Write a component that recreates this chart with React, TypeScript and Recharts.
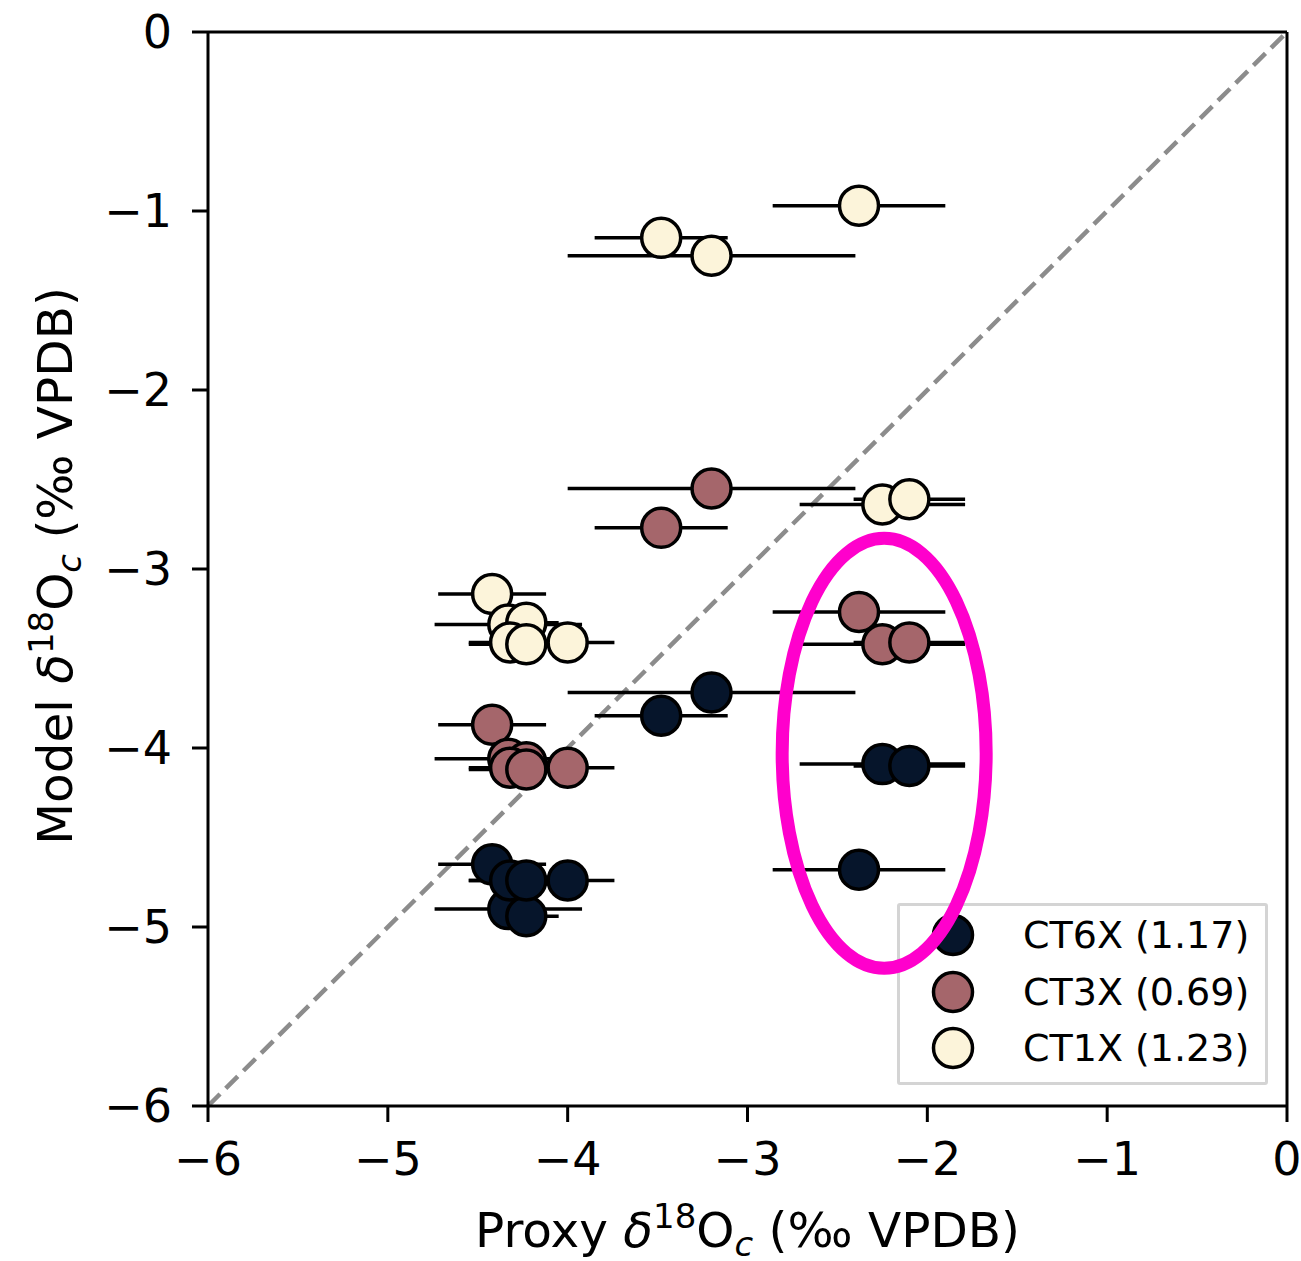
import React from 'react';
import {
  ScatterChart,
  Scatter,
  XAxis,
  YAxis,
  ErrorBar,
  ReferenceLine,
  ReferenceDot,
} from 'recharts';

// proxy sites (x) with their x-uncertainty
const SITE_X = [-2.38, -3.48, -3.2, -2.25, -2.1, -4.42, -4.33, -4.23, -4.32, -4.23, -4.0];
const SITE_XERR = [0.48, 0.37, 0.8, 0.46, 0.31, 0.3, 0.41, 0.18, 0.23, 0.32, 0.26];

// model values per experiment
const CT6X = [-4.68, -3.82, -3.69, -4.09, -4.1, -4.65, -4.9, -4.94, -4.74, -4.74, -4.74];
const CT3X = [-3.24, -2.77, -2.55, -3.42, -3.41, -3.87, -4.06, -4.08, -4.11, -4.12, -4.11];
const CT1X = [-0.97, -1.15, -1.25, -2.64, -2.61, -3.14, -3.31, -3.3, -3.41, -3.42, -3.41];

const TICKS = [-6, -5, -4, -3, -2, -1, 0];
const DIAG = [-6, 0];

// highlighted group (center in data units)
const HIGHLIGHT = { x: -2.24, y: -4.03 };

const SERIES = [
  { name: 'CT6X (1.17)', values: CT6X, color: '#06152b' },
  { name: 'CT3X (0.69)', values: CT3X, color: '#a5666b' },
  { name: 'CT1X (1.23)', values: CT1X, color: '#fcf4da' },
];

const FONT = '"DejaVu Sans", sans-serif';

const toRows = (values: number[]) =>
  values.map((y, i) => ({ x: SITE_X[i], y, xerr: SITE_XERR[i] }));

const fmt = (v: number) => String(v).replace('-', '\u2212');

const dot = (fill: string) => (props: any) => (
  <circle cx={props.cx} cy={props.cy} r={19.5} fill={fill} stroke="#000" strokeWidth={3.5} />
);

const AxisTitle = ({ prefix }: { prefix: string }) => (
  <>
    {prefix}{' '}
    <tspan fontStyle="italic">δ</tspan>
    <tspan dy={-19} fontSize={34}>18</tspan>
    <tspan dy={19}>O</tspan>
    <tspan dy={9} fontSize={34} fontStyle="italic">c</tspan>
    <tspan dy={-9}> (‰ VPDB)</tspan>
  </>
);

const XLabel = ({ viewBox }: any) => {
  const { x, y, width } = viewBox;
  return (
    <text x={x + width / 2} y={y + 141} textAnchor="middle" fontSize={48.5} fontFamily={FONT} fill="#000">
      <AxisTitle prefix="Proxy" />
    </text>
  );
};

const YLabel = ({ viewBox }: any) => {
  const { x, y, height } = viewBox;
  const cx = x + 72;
  const cy = y + height / 2 - 3;
  return (
    <text
      x={cx}
      y={cy}
      transform={`rotate(-90, ${cx}, ${cy})`}
      textAnchor="middle"
      fontSize={48.5}
      fontFamily={FONT}
      fill="#000"
    >
      <AxisTitle prefix="Model" />
    </text>
  );
};

const tickStyle = { fontSize: 46, fontFamily: FONT, fill: '#000' };

export default function App() {
  return (
    <div style={{ position: 'absolute', left: 0, top: 0, width: 1301, height: 1261 }}>
      {/* legend */}
      <div
        style={{
          position: 'absolute',
          left: 897,
          top: 903,
          width: 365,
          height: 175,
          border: '3px solid #d4d4d4',
          borderRadius: 3,
          background: 'rgba(255,255,255,0.8)',
          fontFamily: FONT,
          fontSize: 38,
          paddingTop: 1,
        }}
      >
        {SERIES.map((s) => (
          <div key={s.name} style={{ display: 'flex', alignItems: 'center', height: 56.5 }}>
            <svg width={46} height={46} style={{ marginLeft: 30 }}>
              <circle cx={23} cy={23} r={19.5} fill={s.color} stroke="#000" strokeWidth={3.5} />
            </svg>
            <span style={{ marginLeft: 47, whiteSpace: 'nowrap' }}>{s.name}</span>
          </div>
        ))}
      </div>
      <div style={{ position: 'absolute', left: 0, top: 0 }}>
        <ScatterChart width={1301} height={1261} margin={{ top: 32, right: 14, bottom: 0, left: 0 }}>
          <XAxis
            type="number"
            dataKey="x"
            domain={[-6, 0]}
            ticks={TICKS}
            allowDataOverflow
            tickFormatter={fmt}
            height={155}
            tickSize={16}
            tickMargin={20}
            tick={tickStyle}
            axisLine={{ stroke: '#000', strokeWidth: 3 }}
            tickLine={{ stroke: '#000', strokeWidth: 3 }}
            label={<XLabel />}
          />
          <YAxis
            type="number"
            dataKey="y"
            domain={[-6, 0]}
            ticks={TICKS}
            allowDataOverflow
            tickFormatter={fmt}
            width={208}
            tickSize={16}
            tickMargin={20}
            tick={tickStyle}
            axisLine={{ stroke: '#000', strokeWidth: 3 }}
            tickLine={{ stroke: '#000', strokeWidth: 3 }}
            label={<YLabel />}
          />
          <ReferenceLine
            segment={[
              { x: DIAG[0], y: DIAG[0] },
              { x: DIAG[1], y: DIAG[1] },
            ]}
            stroke="#8c8c8c"
            strokeWidth={4.5}
            strokeDasharray="17 8"
          />
          <ReferenceLine y={0} stroke="#000" strokeWidth={3} />
          <ReferenceLine x={0} stroke="#000" strokeWidth={3} />
          {SERIES.map((s) => (
            <Scatter
              key={s.name}
              name={s.name}
              data={toRows(s.values)}
              shape={dot(s.color)}
              isAnimationActive={false}
            >
              <ErrorBar dataKey="xerr" direction="x" width={0} stroke="#000" strokeWidth={3.5} isAnimationActive={false} />
            </Scatter>
          ))}
          <ReferenceDot
            x={HIGHLIGHT.x}
            y={HIGHLIGHT.y}
            shape={(p: any) => (
              <ellipse cx={p.cx} cy={p.cy} rx={102} ry={215} fill="none" stroke="#ff00cc" strokeWidth={13} />
            )}
          />
        </ScatterChart>
      </div>
    </div>
  );
}
